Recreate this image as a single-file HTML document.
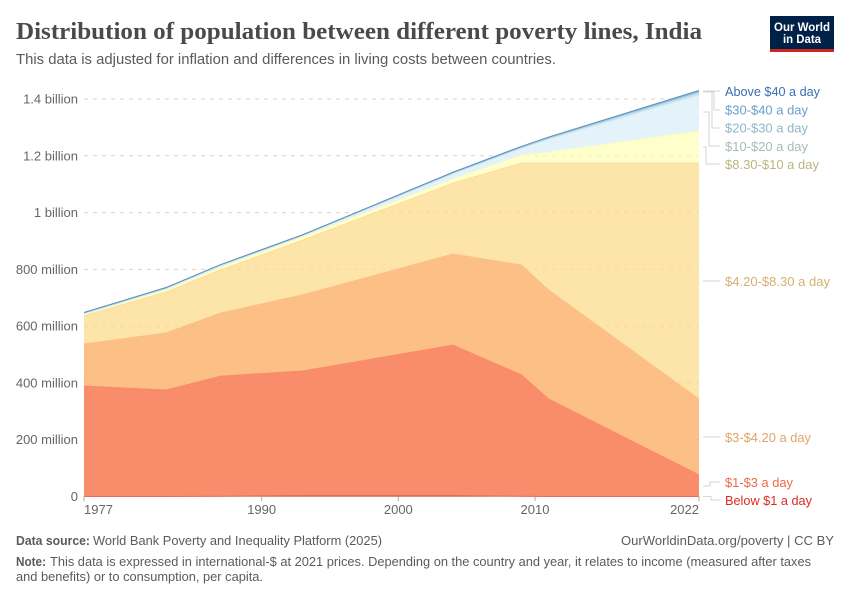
<!DOCTYPE html>
<html lang="en">
<head>
<meta charset="utf-8">
<title>Distribution of population between different poverty lines, India</title>
<style>
html,body{margin:0;padding:0;background:#fff}
svg{display:block}
text{font-family:"Liberation Sans",sans-serif}
</style>
</head>
<body>
<svg id="chart" xmlns="http://www.w3.org/2000/svg" width="850" height="600" viewBox="0 0 850 600">
  <text x="16" y="39" font-size="24" font-weight="700" fill="#4a4a4a" style="font-family:'Liberation Serif',serif" textLength="686" lengthAdjust="spacingAndGlyphs">Distribution of population between different poverty lines, India</text>
  <text x="16" y="64" font-size="14.5" fill="#5b5b5b" textLength="540" lengthAdjust="spacingAndGlyphs">This data is adjusted for inflation and differences in living costs between countries.</text>

  <g>
    <rect x="770" y="16" width="64" height="36" fill="#002147"/>
    <rect x="770" y="49" width="64" height="3" fill="#ce261e"/>
    <text x="802" y="31" font-size="12" font-weight="700" fill="#fff" text-anchor="middle" textLength="56" lengthAdjust="spacingAndGlyphs">Our World</text>
    <text x="802" y="43" font-size="12" font-weight="700" fill="#fff" text-anchor="middle" textLength="38" lengthAdjust="spacingAndGlyphs">in Data</text>
  </g>

  <g id="xticks"></g>
  <g id="areas"></g>
  <g id="grid"></g>
  <g id="lines"></g>
  <g id="yticks"></g>

  <g fill="none" stroke="#d6d6d6" stroke-width="1">
    <path d="M703 91H720"/>
    <path d="M703 92H714V110H720"/>
    <path d="M703 91H712V128H720"/>
    <path d="M703 112H709V146H720"/>
    <path d="M703 147H706V164H720"/>
    <path d="M703 281H720"/>
    <path d="M703 437H720"/>
    <path d="M703 486H710V482H720"/>
    <path d="M703 496.500H711V500H720"/>
  </g>
  <g font-size="13">
    <text x="725" y="96" fill="#3c6eb4" textLength="95" lengthAdjust="spacingAndGlyphs">Above $40 a day</text>
    <text x="725" y="114.500" fill="#6a9fc9" textLength="83" lengthAdjust="spacingAndGlyphs">$30-$40 a day</text>
    <text x="725" y="132.500" fill="#8fb6c8" textLength="83" lengthAdjust="spacingAndGlyphs">$20-$30 a day</text>
    <text x="725" y="151" fill="#a8b9bd" textLength="83" lengthAdjust="spacingAndGlyphs">$10-$20 a day</text>
    <text x="725" y="169" fill="#b9b780" textLength="94" lengthAdjust="spacingAndGlyphs">$8.30-$10 a day</text>
    <text x="725" y="286" fill="#d6b070" textLength="105" lengthAdjust="spacingAndGlyphs">$4.20-$8.30 a day</text>
    <text x="725" y="442" fill="#e0a468" textLength="86" lengthAdjust="spacingAndGlyphs">$3-$4.20 a day</text>
    <text x="725" y="487" fill="#ee6a48" textLength="68" lengthAdjust="spacingAndGlyphs">$1-$3 a day</text>
    <text x="725" y="505" fill="#dc2c22" textLength="87" lengthAdjust="spacingAndGlyphs">Below $1 a day</text>
  </g>

  <g font-size="13" fill="#5b5b5b">
    <text x="16" y="545" font-weight="700" textLength="74" lengthAdjust="spacingAndGlyphs">Data source:</text>
    <text x="93" y="545" textLength="289" lengthAdjust="spacingAndGlyphs">World Bank Poverty and Inequality Platform (2025)</text>
    <text x="621" y="545" textLength="213" lengthAdjust="spacingAndGlyphs">OurWorldinData.org/poverty | CC BY</text>
    <text x="16" y="566" font-weight="700" textLength="30" lengthAdjust="spacingAndGlyphs">Note:</text>
    <text x="50" y="566" textLength="761" lengthAdjust="spacingAndGlyphs">This data is expressed in international-$ at 2021 prices. Depending on the country and year, it relates to income (measured after taxes</text>
    <text x="16" y="581" textLength="247" lengthAdjust="spacingAndGlyphs">and benefits) or to consumption, per capita.</text>
  </g>
</svg>
<script>
// Survey years at which the series change slope
const years = [1977, 1983, 1987, 1993, 2004, 2009, 2011, 2022];
// Population in each band, millions
const below1 = [0, 0, 1, 4, 4, 1, 0, 0];
const from1to3 = [389, 375, 423, 438, 529, 427, 343, 76];
const from3to420 = [148, 201, 222, 268, 321, 387, 384, 267];
const from420to830 = [99, 144, 152, 193, 250, 359, 447, 831];
const from830to10 = [4, 7, 8, 11, 14, 28, 39, 113];
const from10to20 = [4, 5, 7, 4, 18, 24, 44, 126];
const from20to30 = [2, 2, 2, 2, 3, 3, 4, 8];
const from30to40 = [1, 1, 1, 1, 2, 2, 3, 5];
const above40 = [1, 1, 1, 1, 1, 2, 2, 4];
// Axis ticks
const yTickValues = [0, 200, 400, 600, 800, 1000, 1200, 1400];
const yTickLabels = ['0', '200 million', '400 million', '600 million', '800 million', '1 billion', '1.2 billion', '1.4 billion'];
const xTickValues = [1977, 1990, 2000, 2010, 2022];
const seriesValues = [below1, from1to3, from3to420, from420to830, from830to10, from10to20, from20to30, from30to40, above40];
const seriesNames = ['below-1', '1-3', '3-4', '4-8', '8-10', '10-20', '20-30', '30-40', 'above-40'];
const fills = ['#e0584a', '#f88c6b', '#fcbf85', '#fde4a8', '#ffffcc', '#e4f3fa', '#c8e3ef', '#a9cfe2', '#7fa9cc'];
const strokes = ['#e4705e', '#f88c6b', '#fcbf85', '#fbdc9c', '#fbfbc4', '#dcedf5', '#bcdcea', '#94bfd9', '#5f8fbb'];

const SVG = 'http://www.w3.org/2000/svg';
const xScale = function (year) { return 84 + (year - 1977) * (699 - 84) / (2022 - 1977); };
const yScale = function (v) { return 496.5 - v * (496.5 - 99) / 1400; };
function make(tag, parent, attrs, txt) {
  const el = document.createElementNS(SVG, tag);
  for (const k in attrs) el.setAttribute(k, attrs[k]);
  if (txt !== undefined) el.textContent = txt;
  parent.appendChild(el);
  return el;
}

const gridG = document.getElementById('grid');
const yG = document.getElementById('yticks');
yTickValues.forEach(function (v, i) {
  if (v > 0) {
    const line = make('line', gridG, { x1: 84, x2: 699, y1: yScale(v), y2: yScale(v), stroke: '#c8a070', 'stroke-opacity': 0.16, 'stroke-dasharray': '4 5' });
    
    
    const upperLine = make('line', document.getElementById('xticks'), { x1: 84, x2: 699, y1: yScale(v), y2: yScale(v), stroke: '#dddddd', 'stroke-dasharray': '4 5' });
    
    
  }
  const label = make('text', yG, { x: 78, y: yScale(v) + 4.5, 'font-size': 13, fill: '#666666', 'text-anchor': 'end' }, yTickLabels[i]);
  
  
});

const xG = document.getElementById('xticks');
const baseline = make('line', xG, { x1: 84, x2: 699, y1: 496.5, y2: 496.5, stroke: '#c4c4c4' });


xTickValues.forEach(function (yr, i) {
  const tick = make('line', xG, { x1: xScale(yr), x2: xScale(yr), y1: 496.5, y2: 501, stroke: '#aaaaaa' });
  
  
  const anchor = i === 0 ? 'start' : (i === xTickValues.length - 1 ? 'end' : 'middle');
  const label = make('text', xG, { x: xScale(yr), y: 514, 'font-size': 13, fill: '#666666', 'text-anchor': anchor }, String(yr));
  
  
});

const areasG = document.getElementById('areas');
const linesG = document.getElementById('lines');
let base = years.map(function () { return 0; });
seriesValues.forEach(function (vals, s) {
  const top = vals.map(function (v, i) { return base[i] + v; });
  const upper = years.map(function (yr, i) { return xScale(yr).toFixed(2) + ' ' + yScale(top[i]).toFixed(2); });
  const lower = years.map(function (yr, i) { return xScale(yr).toFixed(2) + ' ' + yScale(base[i]).toFixed(2); }).reverse();
  const area = make('path', areasG, { d: 'M' + upper.join('L') + 'L' + lower.join('L') + 'Z', fill: fills[s] });
  
  
  const line = make('path', linesG, { d: 'M' + upper.join('L'), fill: 'none', stroke: strokes[s], 'stroke-width': 1 });
  
  
  base = top;
});
</script>
</body>
</html>
